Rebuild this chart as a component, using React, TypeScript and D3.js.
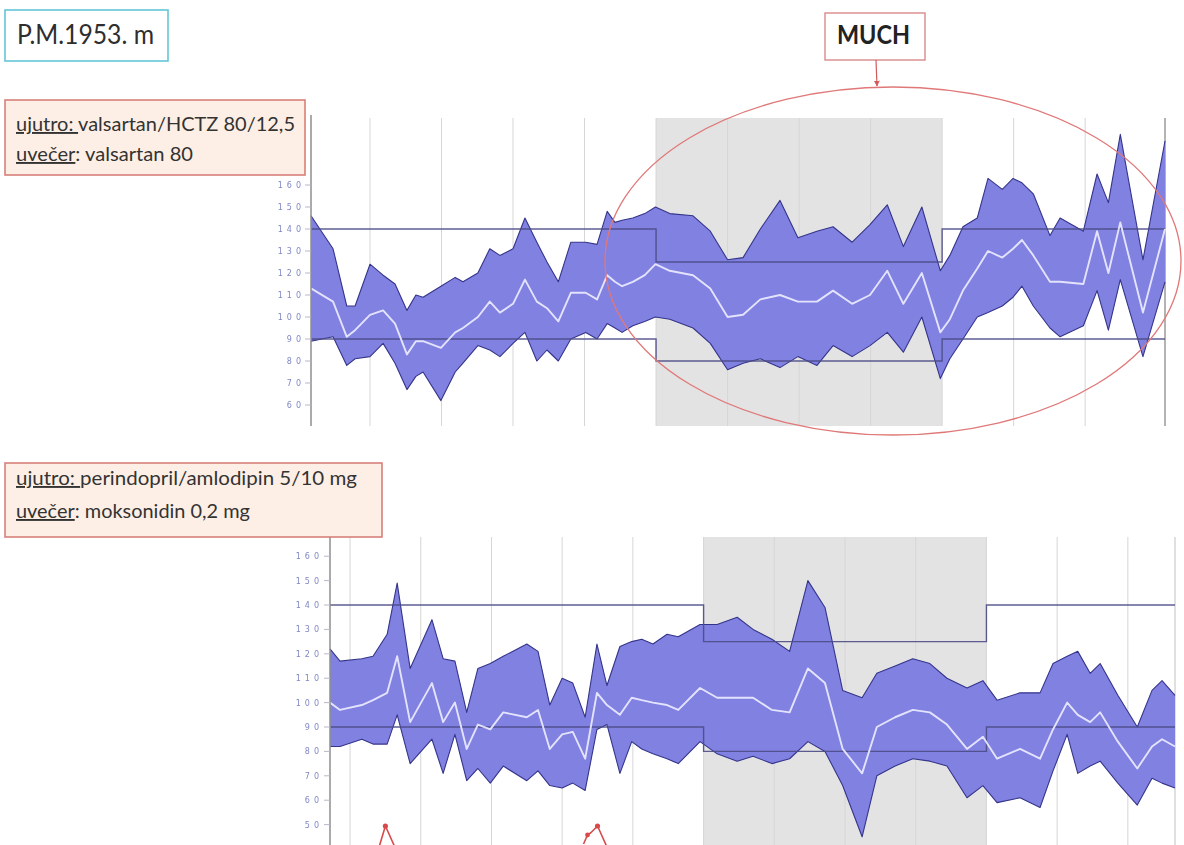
import React from "react";
import * as d3 from "d3";

// ---- 24h ambulatory readings, first recording (valsartan/HCTZ + valsartan) ----
const topTimes = [
  "12:21", "12:58", "13:21", "13:35", "14:00", "14:22", "14:42", "15:02", "15:17", "15:29",
  "15:59", "16:23", "16:36", "17:01", "17:21", "17:38", "18:00", "18:20", "18:40", "18:57",
  "19:16", "19:37", "20:02", "20:21", "20:38", "20:51", "21:03", "21:21", "21:41", "21:59",
  "22:23", "23:02", "23:31", "00:00", "00:26", "00:55", "01:28", "01:58", "02:30", "02:57",
  "03:29", "03:59", "04:28", "04:55", "05:26", "05:57", "06:13", "06:35", "06:59", "07:17",
  "07:41", "07:59", "08:14", "08:33", "09:01", "09:18", "09:57", "10:20", "10:39", "10:59",
  "11:37", "12:14",
];
const topSys = [
  146, 131, 105, 105, 124, 119, 115, 103, 110, 109,
  114, 118, 116, 120, 131, 128, 131, 145, 134, 125,
  116, 134, 134, 133, 148, 143, 144, 145, 147, 150,
  147, 146, 139, 126, 127, 140, 153, 136, 139, 141,
  134, 142, 151, 132, 150, 121, 128, 141, 145, 163,
  158, 163, 161, 156, 137, 145, 139, 165, 152, 183,
  126, 180,
];
const topDia = [
  89, 91, 78, 81, 82, 88, 79, 67, 73, 75,
  62, 75, 79, 87, 85, 82, 88, 93, 80, 85,
  80, 90, 93, 90, 97, 95, 93, 96, 98, 100,
  99, 95, 88, 76, 79, 81, 77, 82, 78, 87,
  82, 87, 93, 84, 100, 72, 81, 90, 100, 102,
  105, 109, 114, 105, 95, 91, 96, 112, 94, 117,
  82, 116,
];
const topMap = [
  113, 107, 91, 94, 101, 103, 97, 83, 89, 89,
  86, 93, 95, 100, 107, 102, 106, 117, 107, 104,
  98, 111, 111, 108, 119, 116, 114, 116, 119, 124,
  121, 119, 113, 100, 101, 108, 110, 107, 107, 112,
  106, 110, 121, 106, 120, 93, 99, 112, 122, 130,
  127, 131, 135, 128, 116, 116, 115, 139, 120, 143,
  102, 140,
];

// ---- second recording (perindopril/amlodipin + moksonidin) ----
const bottomTimes = [
  "11:26", "11:43", "12:20", "12:39", "13:03", "13:20", "13:42", "14:19", "14:38", "14:58",
  "15:18", "15:37", "15:58", "16:20", "17:00", "17:19", "17:39", "18:00", "18:18", "18:39",
  "18:59", "19:16", "19:38", "19:58", "20:15", "20:34", "20:58", "21:17", "21:54", "22:23",
  "22:57", "23:24", "23:56", "00:26", "00:57", "01:26", "01:56", "02:29", "02:54", "03:25",
  "03:55", "04:24", "04:53", "05:27", "05:54", "06:18", "06:57", "07:31", "07:53", "08:17",
  "08:35", "08:56", "09:13", "09:43", "10:16", "10:41", "10:58", "11:20",
];
const bottomSys = [
  122, 117, 118, 119, 128, 149, 114, 134, 118, 117,
  96, 114, 116, 119, 124, 121, 99, 110, 108, 94,
  124, 107, 123, 125, 126, 124, 128, 127, 132, 132,
  135, 130, 126, 121, 150, 139, 105, 102, 112, 115,
  118, 116, 110, 106, 109, 101, 104, 104, 116, 119,
  121, 112, 116, 103, 90, 105, 109, 103,
];
const bottomDia = [
  82, 82, 85, 83, 83, 95, 75, 85, 71, 87,
  68, 73, 67, 74, 68, 72, 66, 65, 67, 64,
  89, 91, 71, 84, 81, 79, 77, 75, 84, 79,
  76, 78, 75, 77, 84, 80, 66, 45, 70, 74,
  77, 76, 74, 61, 66, 59, 61, 57, 72, 87,
  71, 74, 76, 67, 58, 69, 67, 65,
];
const bottomMap = [
  100, 97, 99, 101, 104, 119, 92, 108, 92, 100,
  81, 91, 89, 96, 94, 97, 81, 87, 88, 77,
  104, 99, 95, 102, 101, 100, 99, 97, 106, 102,
  102, 102, 97, 96, 114, 108, 81, 71, 90, 94,
  97, 96, 91, 81, 86, 77, 81, 77, 89, 100,
  95, 92, 96, 84, 73, 82, 85, 82,
];

// limits (systolic, diastolic) for day and night, night window in clock hours
const dayLimits = [140, 90];
const nightLimits = [125, 80];
const nightWindow = [22, 30];

// axis ticks
const topTicks = [60, 70, 80, 90, 100, 110, 120, 130, 140, 150, 160];
const bottomTicks = [50, 60, 70, 80, 90, 100, 110, 120, 130, 140, 150, 160];
const topGridHours = [14, 16, 18, 20, 22, 24, 26, 28, 30, 32, 34];
const bottomGridHours = [12, 14, 16, 18, 20, 22, 24, 26, 28, 30, 32, 34];
const eventTimes = ["13:00", "19:00"];

// "HH:MM" strings to continuous hours, rolling past midnight
function toHours(list: string[]): number[] {
  let prev = -Infinity;
  let offset = 0;
  return list.map((s) => {
    const [h, m] = s.split(":").map(Number);
    let t = h + m / 60 + offset;
    if (t < prev) {
      offset += 24;
      t += 24;
    }
    prev = t;
    return t;
  });
}

type Panel = {
  id: string;
  times: string[];
  sys: number[];
  dia: number[];
  map: number[];
  ticks: number[];
  gridHours: number[];
  yDomain: [number, number];
  xRange: [number, number];
  yRange: [number, number];
  plotTop: number;
  plotBottom: number;
  labelX: number;
  rightBorder: string;
};

const panels: Panel[] = [
  {
    id: "top",
    times: topTimes,
    sys: topSys,
    dia: topDia,
    map: topMap,
    ticks: topTicks,
    gridHours: topGridHours,
    yDomain: [50, 190],
    xRange: [311, 1165],
    yRange: [427, 119],
    plotTop: 118,
    plotBottom: 426,
    labelX: 301,
    rightBorder: "#8a8a8a",
  },
  {
    id: "bottom",
    times: bottomTimes,
    sys: bottomSys,
    dia: bottomDia,
    map: bottomMap,
    ticks: bottomTicks,
    gridHours: bottomGridHours,
    yDomain: [40, 168],
    xRange: [330, 1175],
    yRange: [849, 536.7],
    plotTop: 537,
    plotBottom: 850,
    labelX: 319,
    rightBorder: "#cfcfcf",
  },
];

const BAND = "#8181e2";
const BAND_EDGE = "#34348a";
const LIMIT = "#4b4b86";

function ABPMPanel({ p }: { p: Panel }) {
  const t = toHours(p.times);
  const x = d3.scaleLinear().domain([t[0], t[t.length - 1]]).range(p.xRange);
  const y = d3.scaleLinear().domain(p.yDomain).range(p.yRange);
  const rows = t.map((h, i) => ({ h, sys: p.sys[i], dia: p.dia[i], map: p.map[i] }));

  const band = d3
    .area<(typeof rows)[number]>()
    .x((d) => x(d.h))
    .y0((d) => y(d.dia))
    .y1((d) => y(d.sys));
  const upper = d3
    .line<(typeof rows)[number]>()
    .x((d) => x(d.h))
    .y((d) => y(d.sys));
  const lower = d3
    .line<(typeof rows)[number]>()
    .x((d) => x(d.h))
    .y((d) => y(d.dia));
  const mean = d3
    .line<(typeof rows)[number]>()
    .x((d) => x(d.h))
    .y((d) => y(d.map));

  const [x0, x1] = p.xRange;
  const n0 = x(nightWindow[0]);
  const n1 = x(nightWindow[1]);
  const limitPath = (k: number) =>
    d3.line()([
      [x0, y(dayLimits[k])],
      [n0, y(dayLimits[k])],
      [n0, y(nightLimits[k])],
      [n1, y(nightLimits[k])],
      [n1, y(dayLimits[k])],
      [x1, y(dayLimits[k])],
    ]) as string;

  return (
    <g>
      <rect x={n0} y={p.plotTop} width={n1 - n0} height={p.plotBottom - p.plotTop} fill="#e3e3e3" />
      {p.gridHours.map((h) => (
        <line key={h} x1={x(h)} x2={x(h)} y1={p.plotTop} y2={p.plotBottom} stroke="#d6d6d6" strokeWidth={1} />
      ))}
      <line x1={x1} x2={x1} y1={p.plotTop} y2={p.plotBottom} stroke={p.rightBorder} strokeWidth={1.3} />
      <path d={band(rows) as string} fill={BAND} />
      <path d={upper(rows) as string} fill="none" stroke={BAND_EDGE} strokeWidth={1.1} strokeLinejoin="round" />
      <path d={lower(rows) as string} fill="none" stroke={BAND_EDGE} strokeWidth={1.1} strokeLinejoin="round" />
      <path d={limitPath(0)} fill="none" stroke={LIMIT} strokeWidth={1.4} opacity={0.9} />
      <path d={limitPath(1)} fill="none" stroke={LIMIT} strokeWidth={1.4} opacity={0.9} />
      <path d={mean(rows) as string} fill="none" stroke="#ececff" strokeWidth={1.9} strokeLinejoin="round" opacity={0.92} />
      <line x1={x0} x2={x0} y1={p.plotTop - 3} y2={p.plotBottom} stroke="#8e8e8e" strokeWidth={1.5} />
      <g filter="url(#soft)">
        {p.ticks.map((v) => (
          <g key={v}>
            <line x1={x0 - 6} x2={x0} y1={y(v)} y2={y(v)} stroke="#b8b8c8" strokeWidth={1} />
            <text
              x={p.labelX + 4}
              y={y(v) + 3}
              textAnchor="end"
              fontSize={8}
              letterSpacing={4}
              fill="#7f88c4"
              fontFamily="DejaVu Sans, sans-serif"
            >
              {v}
            </text>
          </g>
        ))}
      </g>
    </g>
  );
}

function EventMarks() {
  const p = panels[1];
  const t = toHours(p.times);
  const x = d3.scaleLinear().domain([t[0], t[t.length - 1]]).range(p.xRange);
  const ev = eventTimes.map((s) => {
    const [h, m] = s.split(":").map(Number);
    return h + m / 60;
  });
  return (
    <g stroke="#d84a4a" strokeWidth={1.6} fill="none" strokeLinejoin="round">
      {ev.map((h, i) => {
        const cx = x(h);
        const tip = 826;
        const left =
          i === 0
            ? `M${cx - 6},${tip + 20} L${cx},${tip}`
            : `M${cx - 14},${tip + 18} L${cx - 10},${tip + 9} L${cx - 7},${tip + 7} L${cx},${tip}`;
        return (
          <g key={i}>
            <path d={`${left} L${cx + 9},${tip + 20}`} />
            <circle cx={cx} cy={tip} r={1.8} fill="#d84a4a" />
            {i === 1 && <circle cx={cx - 10} cy={tip + 9} r={1.6} fill="#d84a4a" />}
          </g>
        );
      })}
    </g>
  );
}

export default function App() {
  const font = "Lato, 'Open Sans', sans-serif";
  return (
    <svg
      width={1184}
      height={845}
      style={{ position: "absolute", left: 0, top: 0, background: "#fff" }}
      fontFamily={font}
    >
      <defs>
        <filter id="soft" x="-20%" y="-50%" width="140%" height="200%">
          <feGaussianBlur stdDeviation={0.6} />
        </filter>
        <marker id="head" viewBox="0 0 10 10" refX="9" refY="5" markerWidth="5" markerHeight="5" orient="auto">
          <path d="M0,0 L10,5 L0,10 z" fill="#d45a5a" />
        </marker>
      </defs>
      <rect x={0} y={0} width={1184} height={845} fill="#fff" />

      {/* patient label */}
      <rect x={5} y={10} width={163} height={51} fill="#fff" stroke="#62c6d6" strokeWidth={1.6} />
      <text x={17} y={44} fontSize={27} fill="#2e2e2e" textLength={137} lengthAdjust="spacingAndGlyphs">
        P.M.1953. m
      </text>

      {panels.map((p) => (
        <ABPMPanel key={p.id} p={p} />
      ))}
      <EventMarks />

      {/* therapy boxes */}
      <rect x={5} y={100} width={300} height={75} fill="#fdefe5" stroke="#d7807a" strokeWidth={1.6} />
      <text x={16} y={131} fontSize={19} fill="#333" textLength={279} lengthAdjust="spacingAndGlyphs">
        <tspan textDecoration="underline">ujutro: </tspan>
        <tspan> valsartan/HCTZ 80/12,5</tspan>
      </text>
      <text x={16} y={161} fontSize={19} fill="#333" textLength={177} lengthAdjust="spacingAndGlyphs">
        <tspan textDecoration="underline">uvečer</tspan>
        <tspan>: valsartan 80</tspan>
      </text>

      <rect x={5} y={463} width={377} height={74} fill="#fdefe5" stroke="#d7807a" strokeWidth={1.6} />
      <text x={16} y={485} fontSize={19} fill="#333" textLength={341} lengthAdjust="spacingAndGlyphs">
        <tspan textDecoration="underline">ujutro: </tspan>
        <tspan> perindopril/amlodipin 5/10 mg</tspan>
      </text>
      <text x={16} y={518} fontSize={19} fill="#333" textLength={234} lengthAdjust="spacingAndGlyphs">
        <tspan textDecoration="underline">uvečer</tspan>
        <tspan>: moksonidin 0,2 mg</tspan>
      </text>

      {/* MUCH callout */}
      <ellipse cx={893} cy={261} rx={288} ry={174} fill="none" stroke="#e07878" strokeWidth={1.3} />
      <rect x={825} y={13} width={100} height={47} fill="#fff" stroke="#d98a8a" strokeWidth={1.4} />
      <text x={837} y={44} fontSize={26} fontWeight="bold" fill="#222" textLength={73} lengthAdjust="spacingAndGlyphs">
        MUCH
      </text>
      <line x1={876} y1={60} x2={877} y2={86} stroke="#d45a5a" strokeWidth={1.2} markerEnd="url(#head)" />
    </svg>
  );
}
